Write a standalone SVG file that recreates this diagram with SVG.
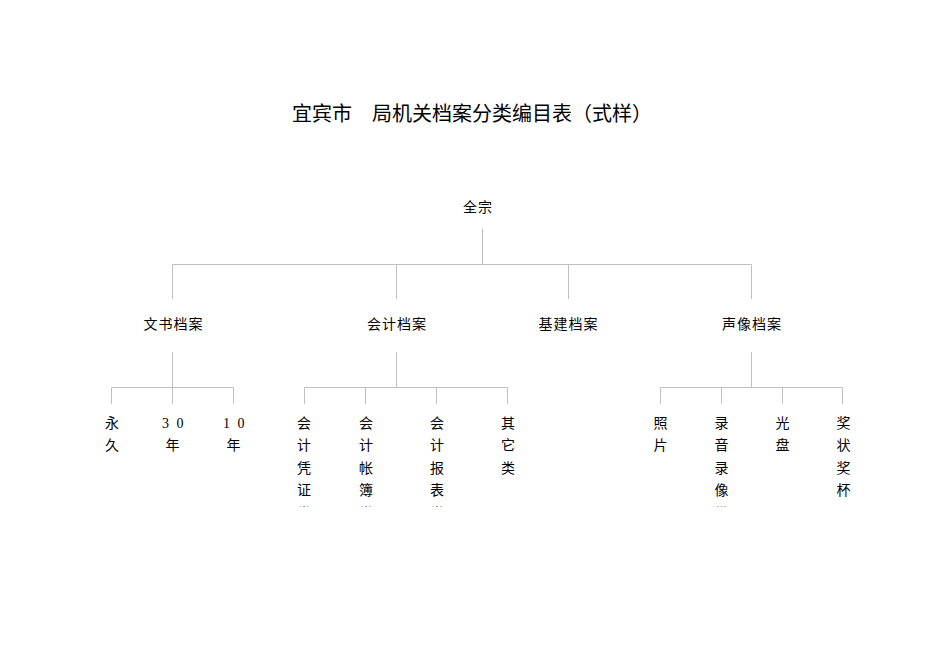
<svg xmlns="http://www.w3.org/2000/svg" width="950" height="672" viewBox="0 0 950 672">
<style>
.ln{stroke:#c0c0c0;stroke-width:1;fill:none}
.title{font-family:"Noto Sans CJK SC","Noto Sans CJK JP",sans-serif;font-size:20px;fill:#000}
.lb{font-family:"Noto Sans CJK SC","Noto Sans CJK JP",sans-serif;font-size:14px;fill:#000;letter-spacing:1px;text-anchor:middle}
.col{font-family:"Noto Sans CJK SC","Noto Sans CJK JP",sans-serif;font-size:14px;fill:#000;text-anchor:middle}
.num{font-family:"Liberation Serif","Noto Sans CJK SC",serif;font-size:14px;fill:#000}
</style>
<defs>
<clipPath id="clipCols"><rect x="0" y="400" width="950" height="107"/></clipPath>
</defs>
<rect width="950" height="672" fill="#fff"/>
<text class="title" x="292" y="120.5">宜宾市　局机关档案分类编目表（式样）</text>

<g id="connectors">
<path class="ln" d="M482.5 229V264.5M172.5 264.5H751.5M172.5 264.5V299M396.5 264.5V299M568.5 264.5V299M751.5 264.5V299"/>
<path class="ln" d="M172.5 352V387.5M111.5 387.5H233.5M111.5 387.5V404M172.5 387.5V404M233.5 387.5V404"/>
<path class="ln" d="M396.5 352V387.5M304.5 387.5H507.5M304.5 387.5V404M365.5 387.5V404M436.5 387.5V404M507.5 387.5V404"/>
<path class="ln" d="M751.5 352V387.5M660.5 387.5H842.5M660.5 387.5V404M721.5 387.5V404M782.5 387.5V404M842.5 387.5V404"/>
</g>

<g id="root"><text class="lb" x="478" y="211.5">全宗</text></g>
<g id="wenshu"><text class="lb" x="173.5" y="328.5">文书档案</text></g>
<g id="kuaiji"><text class="lb" x="397" y="328.5">会计档案</text></g>
<g id="jijian"><text class="lb" x="568.5" y="328.5">基建档案</text></g>
<g id="shengxiang"><text class="lb" x="752" y="328.5">声像档案</text></g>

<g clip-path="url(#clipCols)">
<g id="yongjiu"><text class="col"><tspan x="112" y="427.5">永</tspan><tspan x="112" y="450">久</tspan></text></g>
<g id="y30"><text class="num" x="162" y="427.5" letter-spacing="2">3 0</text><text class="col" x="172.5" y="450">年</text></g>
<g id="y10"><text class="num" x="223" y="427.5" letter-spacing="2">1 0</text><text class="col" x="233.5" y="450">年</text></g>

<g id="pingzheng"><text class="col"><tspan x="304" y="427.5">会</tspan><tspan x="304" y="450">计</tspan><tspan x="304" y="472.5">凭</tspan><tspan x="304" y="495">证</tspan><tspan x="304" y="517.5">类</tspan></text></g>
<g id="zhangbu"><text class="col"><tspan x="366" y="427.5">会</tspan><tspan x="366" y="450">计</tspan><tspan x="366" y="472.5">帐</tspan><tspan x="366" y="495">簿</tspan><tspan x="366" y="517.5">类</tspan></text></g>
<g id="baobiao"><text class="col"><tspan x="437" y="427.5">会</tspan><tspan x="437" y="450">计</tspan><tspan x="437" y="472.5">报</tspan><tspan x="437" y="495">表</tspan><tspan x="437" y="517.5">类</tspan></text></g>
<g id="qita"><text class="col"><tspan x="508" y="427.5">其</tspan><tspan x="508" y="450">它</tspan><tspan x="508" y="472.5">类</tspan></text></g>

<g id="zhaopian"><text class="col"><tspan x="660.5" y="427.5">照</tspan><tspan x="660.5" y="450">片</tspan></text></g>
<g id="luyin"><text class="col"><tspan x="721.5" y="427.5">录</tspan><tspan x="721.5" y="450">音</tspan><tspan x="721.5" y="472.5">录</tspan><tspan x="721.5" y="495">像</tspan><tspan x="721.5" y="517.5">带</tspan></text></g>
<g id="guangpan"><text class="col"><tspan x="782.5" y="427.5">光</tspan><tspan x="782.5" y="450">盘</tspan></text></g>
<g id="jiangzhuang"><text class="col"><tspan x="843.5" y="427.5">奖</tspan><tspan x="843.5" y="450">状</tspan><tspan x="843.5" y="472.5">奖</tspan><tspan x="843.5" y="495">杯</tspan></text></g>
</g>
</svg>
